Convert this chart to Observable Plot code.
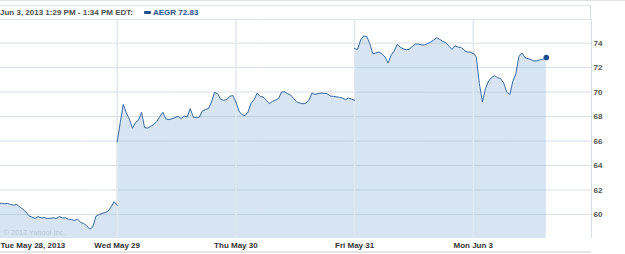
<!DOCTYPE html>
<html><head><meta charset="utf-8">
<script src="https://cdn.jsdelivr.net/npm/d3@7"></script>
<script src="https://cdn.jsdelivr.net/npm/@observablehq/plot@0.6"></script>
<style>
body{margin:0;background:#fff;}
#wrap{position:relative;width:625px;height:254px;overflow:hidden;font-family:"Liberation Sans",Arial,sans-serif;}
#chart{position:absolute;left:0;top:0}
#topline{position:absolute;left:0;top:0;width:625px;height:1px;background:#e2e2e2}
#hdr{position:absolute;left:0;top:5px;width:591px;height:14px;border-top:1px solid #dde4eb;border-right:1px solid #d6dfe8;box-sizing:border-box;}
#hdr span{position:absolute;top:0;font-weight:bold;font-size:8px;line-height:13px;white-space:nowrap}
#when{left:0;color:#4f4f4f}
#sw{position:absolute;left:144px;top:5px;width:7px;height:3px;background:#1f4f8f;border-radius:1px}
#tick{left:153px;color:#1f4f8f}
#bottomline{position:absolute;left:0;top:251px;width:591px;height:2px;background:#e6e6e6}
</style></head>
<body>
<div id="wrap">
<div id="chart"></div>
<div id="topline"></div>
<div id="hdr"><span id="when"></span><div id="sw"></div><span id="tick"></span></div>
<div id="bottomline"></div>
</div>
<script>
const headerText = "Jun 3, 2013 1:29 PM - 1:34 PM EDT:";
const symbolText = "AEGR 72.83";
const credit = "© 2013 Yahoo! Inc.";
const dayLabels = ["Tue May 28, 2013", "Wed May 29", "Thu May 30", "Fri May 31", "Mon Jun 3"];
const yTicks = [60, 62, 64, 66, 68, 70, 72, 74];
const stepMinutes = 10;      // sampling step within a trading day
const sessionMinutes = 390;  // 9:30 - 16:00

const tue = [60.90,60.92,60.88,60.90,60.82,60.76,60.82,60.62,60.43,60.21,59.89,59.80,59.67,59.83,59.72,59.75,59.67,59.70,59.72,59.67,59.83,59.72,59.72,59.62,59.58,59.51,59.62,59.35,59.27,59.07,58.80,59.00,59.85,60.00,60.08,60.16,60.27,60.62,61.05,60.75];
const wed = [65.92,67.5,69.0,68.3,67.8,67.05,67.5,67.7,68.35,67.1,67.06,67.2,67.35,67.6,68.0,68.35,67.80,67.75,67.83,67.91,68.02,67.83,68.04,67.96,68.65,67.96,67.91,67.96,68.46,68.57,68.65,69.19,69.98,69.87,69.40,69.33,69.38,69.65,69.73,69.19];
const thu = [69.19,68.46,68.15,68.07,68.37,69.10,69.38,69.92,69.65,69.59,69.33,69.05,69.24,69.33,69.46,70.0,70.03,69.87,69.76,69.46,69.19,69.10,69.05,69.10,69.33,69.92,69.81,69.87,69.92,69.90,69.87,69.68,69.65,69.62,69.57,69.51,69.38,69.51,69.43,69.33];
const fri = [73.54,73.50,74.27,74.58,74.55,73.95,73.13,73.19,73.27,73.13,72.86,72.37,73.0,73.35,73.89,73.67,73.54,73.46,73.51,73.73,73.92,73.92,73.86,73.84,73.97,74.08,74.25,74.44,74.30,74.14,74.03,73.76,73.48,73.78,73.67,73.65,73.40,73.27,73.27,73.13];
const mon = [73.20,72.86,70.69,69.2,70.28,70.90,71.18,71.34,71.18,71.10,70.74,70.00,69.79,70.88,71.50,72.91,73.19,72.81,72.73,72.64,72.54,72.54,72.64,72.69,72.83];

const sessions = [tue, wed, thu, fri, mon];
const data = sessions.flatMap((vals, d) => vals.map((v, i) => ({d, x: d + (i * stepMinutes) / sessionMinutes, v})));
const last = data[data.length - 1];

const yMin = 58.04, yMax = 75.93;
const xMin = 0.0168, xMax = 4.996;

document.getElementById("when").textContent = headerText;
document.getElementById("tick").textContent = symbolText;

const chart = Plot.plot({
  width: 625, height: 254,
  marginLeft: 0, marginRight: 34, marginTop: 19, marginBottom: 16,
  x: {domain: [xMin, xMax]},
  y: {domain: [yMin, yMax]},
  style: {fontFamily: "'Liberation Sans', Arial, sans-serif", fontSize: "8px", fontWeight: "bold", color: "#4f4f4f", background: "transparent", overflow: "visible"},
  marks: [
    Plot.areaY(data, {x: "x", y1: yMin, y2: "v", fill: "#d6e5f1", clip: true}),
    Plot.ruleY(yTicks, {y: d => d, stroke: "#9fb3c8", strokeOpacity: 0.42}),
    Plot.ruleX([1, 2, 3, 4], {x: d => d, stroke: "#e2e8ef", strokeWidth: 1.5}),
    Plot.text([credit], {text: d => d, frameAnchor: "bottom-left", textAnchor: "start", dx: 3, dy: -4, fill: "#b7c5d3", fontWeight: "normal", fontSize: 7.3}),
    Plot.lineY(data, {x: "x", y: "v", z: "d", stroke: "#3b6ca2", strokeWidth: 1, clip: true}),
    Plot.dot([last], {x: "x", y: "v", r: 2.8, fill: "#1f4f8f"}),
    Plot.ruleX([xMax], {x: d => d, stroke: "#d6dfe8"}),
    Plot.ruleY([yMax], {y: d => d, stroke: "#dde4eb"}),
    Plot.axisY(yTicks, {anchor: "right", tickSize: 0, tickPadding: 2, label: null, fill: "#555"}),
    Plot.axisX([1, 2, 3, 4], {tickSize: 0, tickPadding: 4, label: null, tickFormat: d => dayLabels[d], fill: "#333"}),
    Plot.text([dayLabels[0]], {text: d => d, frameAnchor: "bottom-left", textAnchor: "start", lineAnchor: "top", dy: 4, fill: "#333"})
  ]
});
document.getElementById("chart").appendChild(chart);
</script>
</body></html>
